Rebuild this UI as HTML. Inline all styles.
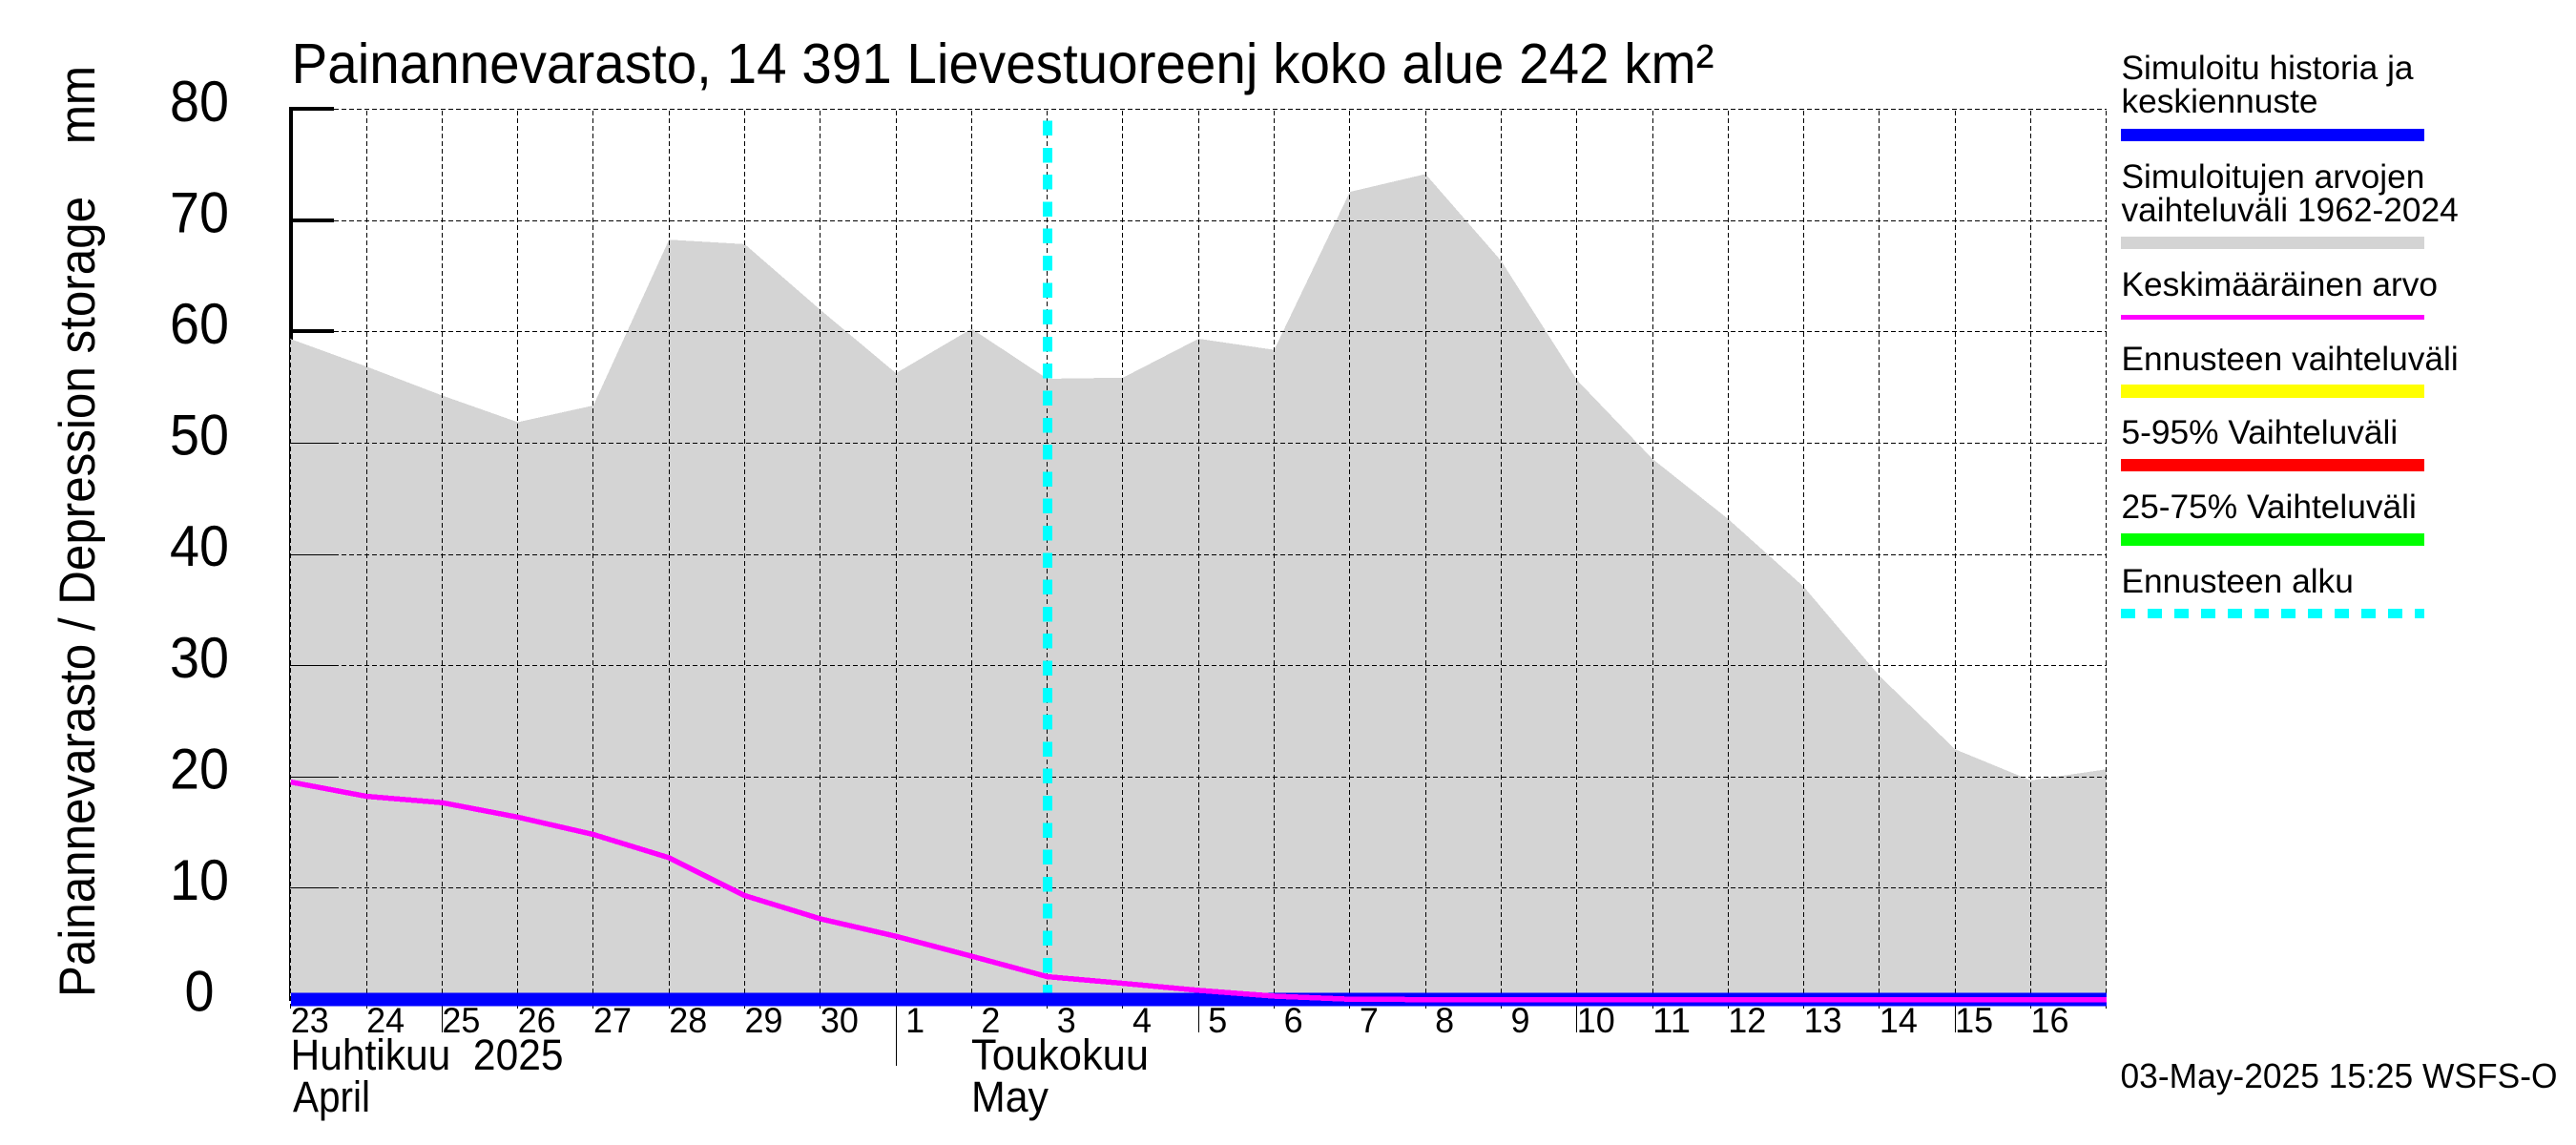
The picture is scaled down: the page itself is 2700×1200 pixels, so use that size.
<!DOCTYPE html>
<html lang="fi">
<head>
<meta charset="utf-8">
<title>Painannevarasto, 14 391 Lievestuoreenj koko alue 242 km²</title>
<style>
  html, body { margin: 0; padding: 0; background: #fff; }
  body { width: 2700px; height: 1200px; overflow: hidden; }
  svg { display: block; }
  text { font-family: "Liberation Sans", sans-serif; fill: #000; white-space: pre; }
  .crisp { shape-rendering: crispEdges; }
</style>
</head>
<body>
<svg id="chart" xmlns="http://www.w3.org/2000/svg" width="2700" height="1200" viewBox="0 0 2700 1200">
  <rect x="0" y="0" width="2700" height="1200" fill="#ffffff"></rect>

  <g id="plot" class="crisp"></g>
  <g id="labels"></g>

  <text x="305.5" y="87" font-size="59" textLength="1491" lengthAdjust="spacingAndGlyphs">Painannevarasto, 14 391 Lievestuoreenj koko alue 242 km²</text>
  <text transform="translate(99 1045) rotate(-90)" font-size="53" textLength="976" lengthAdjust="spacingAndGlyphs">Painannevarasto / Depression storage    mm</text>

  <text x="304.5" y="1121" font-size="45" textLength="286" lengthAdjust="spacingAndGlyphs">Huhtikuu  2025</text>
  <text x="307" y="1165" font-size="45" textLength="81" lengthAdjust="spacingAndGlyphs">April</text>
  <text x="1018" y="1121" font-size="45" textLength="186" lengthAdjust="spacingAndGlyphs">Toukokuu</text>
  <text x="1018" y="1165" font-size="45" textLength="81" lengthAdjust="spacingAndGlyphs">May</text>

  <g class="legend">
    <g>
      <text x="2223.5" y="83" font-size="35.3">Simuloitu historia ja</text>
      <text x="2223.5" y="118" font-size="35.3">keskiennuste</text>
      <rect class="crisp" x="2223" y="135" width="318" height="13" fill="#0000ff"></rect>
    </g>
    <g>
      <text x="2223.5" y="197" font-size="35.3">Simuloitujen arvojen</text>
      <text x="2223.5" y="232" font-size="35.3">vaihteluväli 1962-2024</text>
      <rect class="crisp" x="2223" y="248" width="318" height="13" fill="#d4d4d4"></rect>
    </g>
    <g>
      <text x="2223.5" y="310" font-size="35.3">Keskimääräinen arvo</text>
      <rect class="crisp" x="2223" y="330" width="318" height="5" fill="#ff00ff"></rect>
    </g>
    <g>
      <text x="2223.5" y="388" font-size="35.3">Ennusteen vaihteluväli</text>
      <rect class="crisp" x="2223" y="403" width="318" height="14" fill="#ffff00"></rect>
    </g>
    <g>
      <text x="2223.5" y="465" font-size="35.3">5-95% Vaihteluväli</text>
      <rect class="crisp" x="2223" y="481" width="318" height="13" fill="#ff0000"></rect>
    </g>
    <g>
      <text x="2223.5" y="543" font-size="35.3">25-75% Vaihteluväli</text>
      <rect class="crisp" x="2223" y="559" width="318" height="13" fill="#00ff00"></rect>
    </g>
    <g>
      <text x="2223.5" y="621" font-size="35.3">Ennusteen alku</text>
      <line class="crisp" x1="2223" y1="643" x2="2541" y2="643" stroke="#00ffff" stroke-width="10" stroke-dasharray="15 13"></line>
    </g>
  </g>

  <text x="2222.5" y="1140" font-size="36" textLength="458" lengthAdjust="spacingAndGlyphs">03-May-2025 15:25 WSFS-O</text>
</svg>

<script>
// Chart data
const dayLabels = ["23","24","25","26","27","28","29","30","1","2","3","4","5","6","7","8","9","10","11","12","13","14","15","16"];
const yTickValues = [0,10,20,30,40,50,60,70,80];
const rangeUpper = [59.4,56.9,54.3,51.9,53.4,68.3,67.9,62.0,56.3,60.3,55.8,55.9,59.4,58.4,72.6,74.2,66.4,55.7,48.6,43.2,37.1,29.1,22.5,19.7,20.7];
const rangeLower = [0,0,0,0,0,0,0,0,0,0,0,0,0,0,0,0,0,0,0,0,0,0,0,0,0];
const meanValue = [19.55,18.27,17.7,16.4,14.84,12.75,9.35,7.26,5.69,3.9,2.06,1.46,0.83,0.31,0.03,0,0,0,0,0,0,0,0,0,0];
const simulated = [0,0,0,0,0,0,0,0,0,0,0,0,0,0,0,0,0,0,0,0,0,0,0,0,0];
const longTickDays = [2,12,17,22];
const monthStartDay = 8;
const forecastStartDay = 10;
const forecastLineTop = 79;

// Axis functions
function xScale(day) { return 304.8 + 79.29 * day; }
function yScale(value) { return 1047.6 - 11.66 * value; }
function px(v) { return Math.floor(v) + 0.5; }

const NS = "http://www.w3.org/2000/svg";
const plot = document.getElementById("plot");
const labels = document.getElementById("labels");

function make(tag, parent, attrs) {
  const el = document.createElementNS(NS, tag);
  for (const k in attrs) el.setAttribute(k, attrs[k]);
  parent.appendChild(el);
  return el;
}

// Thick y axis and ticks, partly hidden by the grey range
const axisLine = make("rect", plot, { x: 303, y: 113, width: 4, height: yScale(0) - 113, fill: "#000" });



yTickValues.forEach(function (v) {
  const t = make("rect", plot, { x: 303, y: Math.floor(yScale(v)) - 2, width: 47, height: 4, fill: "#000" });
  
  
});

// Simulated range area
const upperPts = rangeUpper.map(function (v, i) { return (i === 0 ? xScale(i) - 1 : xScale(i)) + "," + yScale(v); });
const lowerPts = rangeLower.map(function (v, i) { return (i === 0 ? xScale(i) - 1 : xScale(i)) + "," + yScale(v); }).reverse();
const area = make("polygon", plot, { points: upperPts.concat(lowerPts).join(" "), fill: "#d4d4d4" });



// Thin solid tick overlay
yTickValues.forEach(function (v) {
  const t = make("line", plot, { x1: 304, x2: 350, y1: px(yScale(v)), y2: px(yScale(v)), stroke: "#000", "stroke-width": 1 });
  
  
});

// Horizontal grid
yTickValues.forEach(function (v) {
  const g = make("line", plot, { x1: 350, x2: xScale(24), y1: px(yScale(v)), y2: px(yScale(v)), stroke: "#000", "stroke-width": 1, "stroke-dasharray": "5 3" });
  
  
});

// Vertical grid
for (let i = 0; i <= dayLabels.length; i++) {
  const g = make("line", plot, { x1: px(xScale(i)), x2: px(xScale(i)), y1: 116, y2: 1057, stroke: "#000", "stroke-width": 1, "stroke-dasharray": "5 3" });
  
  
}

// Long ticks under the axis
longTickDays.forEach(function (d) {
  const t = make("line", plot, { x1: px(xScale(d)), x2: px(xScale(d)), y1: 1055, y2: 1082, stroke: "#000", "stroke-width": 1 });
  
  
});

const monthSep = make("line", plot, { x1: px(xScale(monthStartDay)), x2: px(xScale(monthStartDay)), y1: 1055, y2: 1117, stroke: "#000", "stroke-width": 1 });



// Forecast start line
const fx = xScale(forecastStartDay) + 0.3;
const forecast = make("line", plot, { x1: fx, x2: fx, y1: yScale(forecastLineTop), y2: yScale(0), stroke: "#00ffff", "stroke-width": 10, "stroke-dasharray": "15.5 12.8" });



// Simulated history line
const simLine = make("polyline", plot, { points: simulated.map(function (v, i) { return xScale(i) + "," + yScale(v); }).join(" "), fill: "none", stroke: "#0000ff", "stroke-width": 14 });



// Mean value line
const meanLine = make("polyline", plot, { points: meanValue.map(function (v, i) { return xScale(i) + "," + yScale(v); }).join(" "), fill: "none", stroke: "#ff00ff", "stroke-width": 5.5, "stroke-linejoin": "round" });



// Y tick labels
yTickValues.forEach(function (v) {
  const label = String(v);
  const t = make("text", labels, { x: 209, y: yScale(v) + 12, "font-size": 60, "text-anchor": "middle", textLength: 31 * label.length, lengthAdjust: "spacingAndGlyphs" });
  t.textContent = label;
  
  
});

// Day labels
dayLabels.forEach(function (d, i) {
  const t = make("text", labels, { x: xScale(i) + 20, y: 1082, "font-size": 37, "text-anchor": "middle", textLength: 20 * d.length, lengthAdjust: "spacingAndGlyphs" });
  t.textContent = d;
  
  
});
</script>
</body>
</html>
